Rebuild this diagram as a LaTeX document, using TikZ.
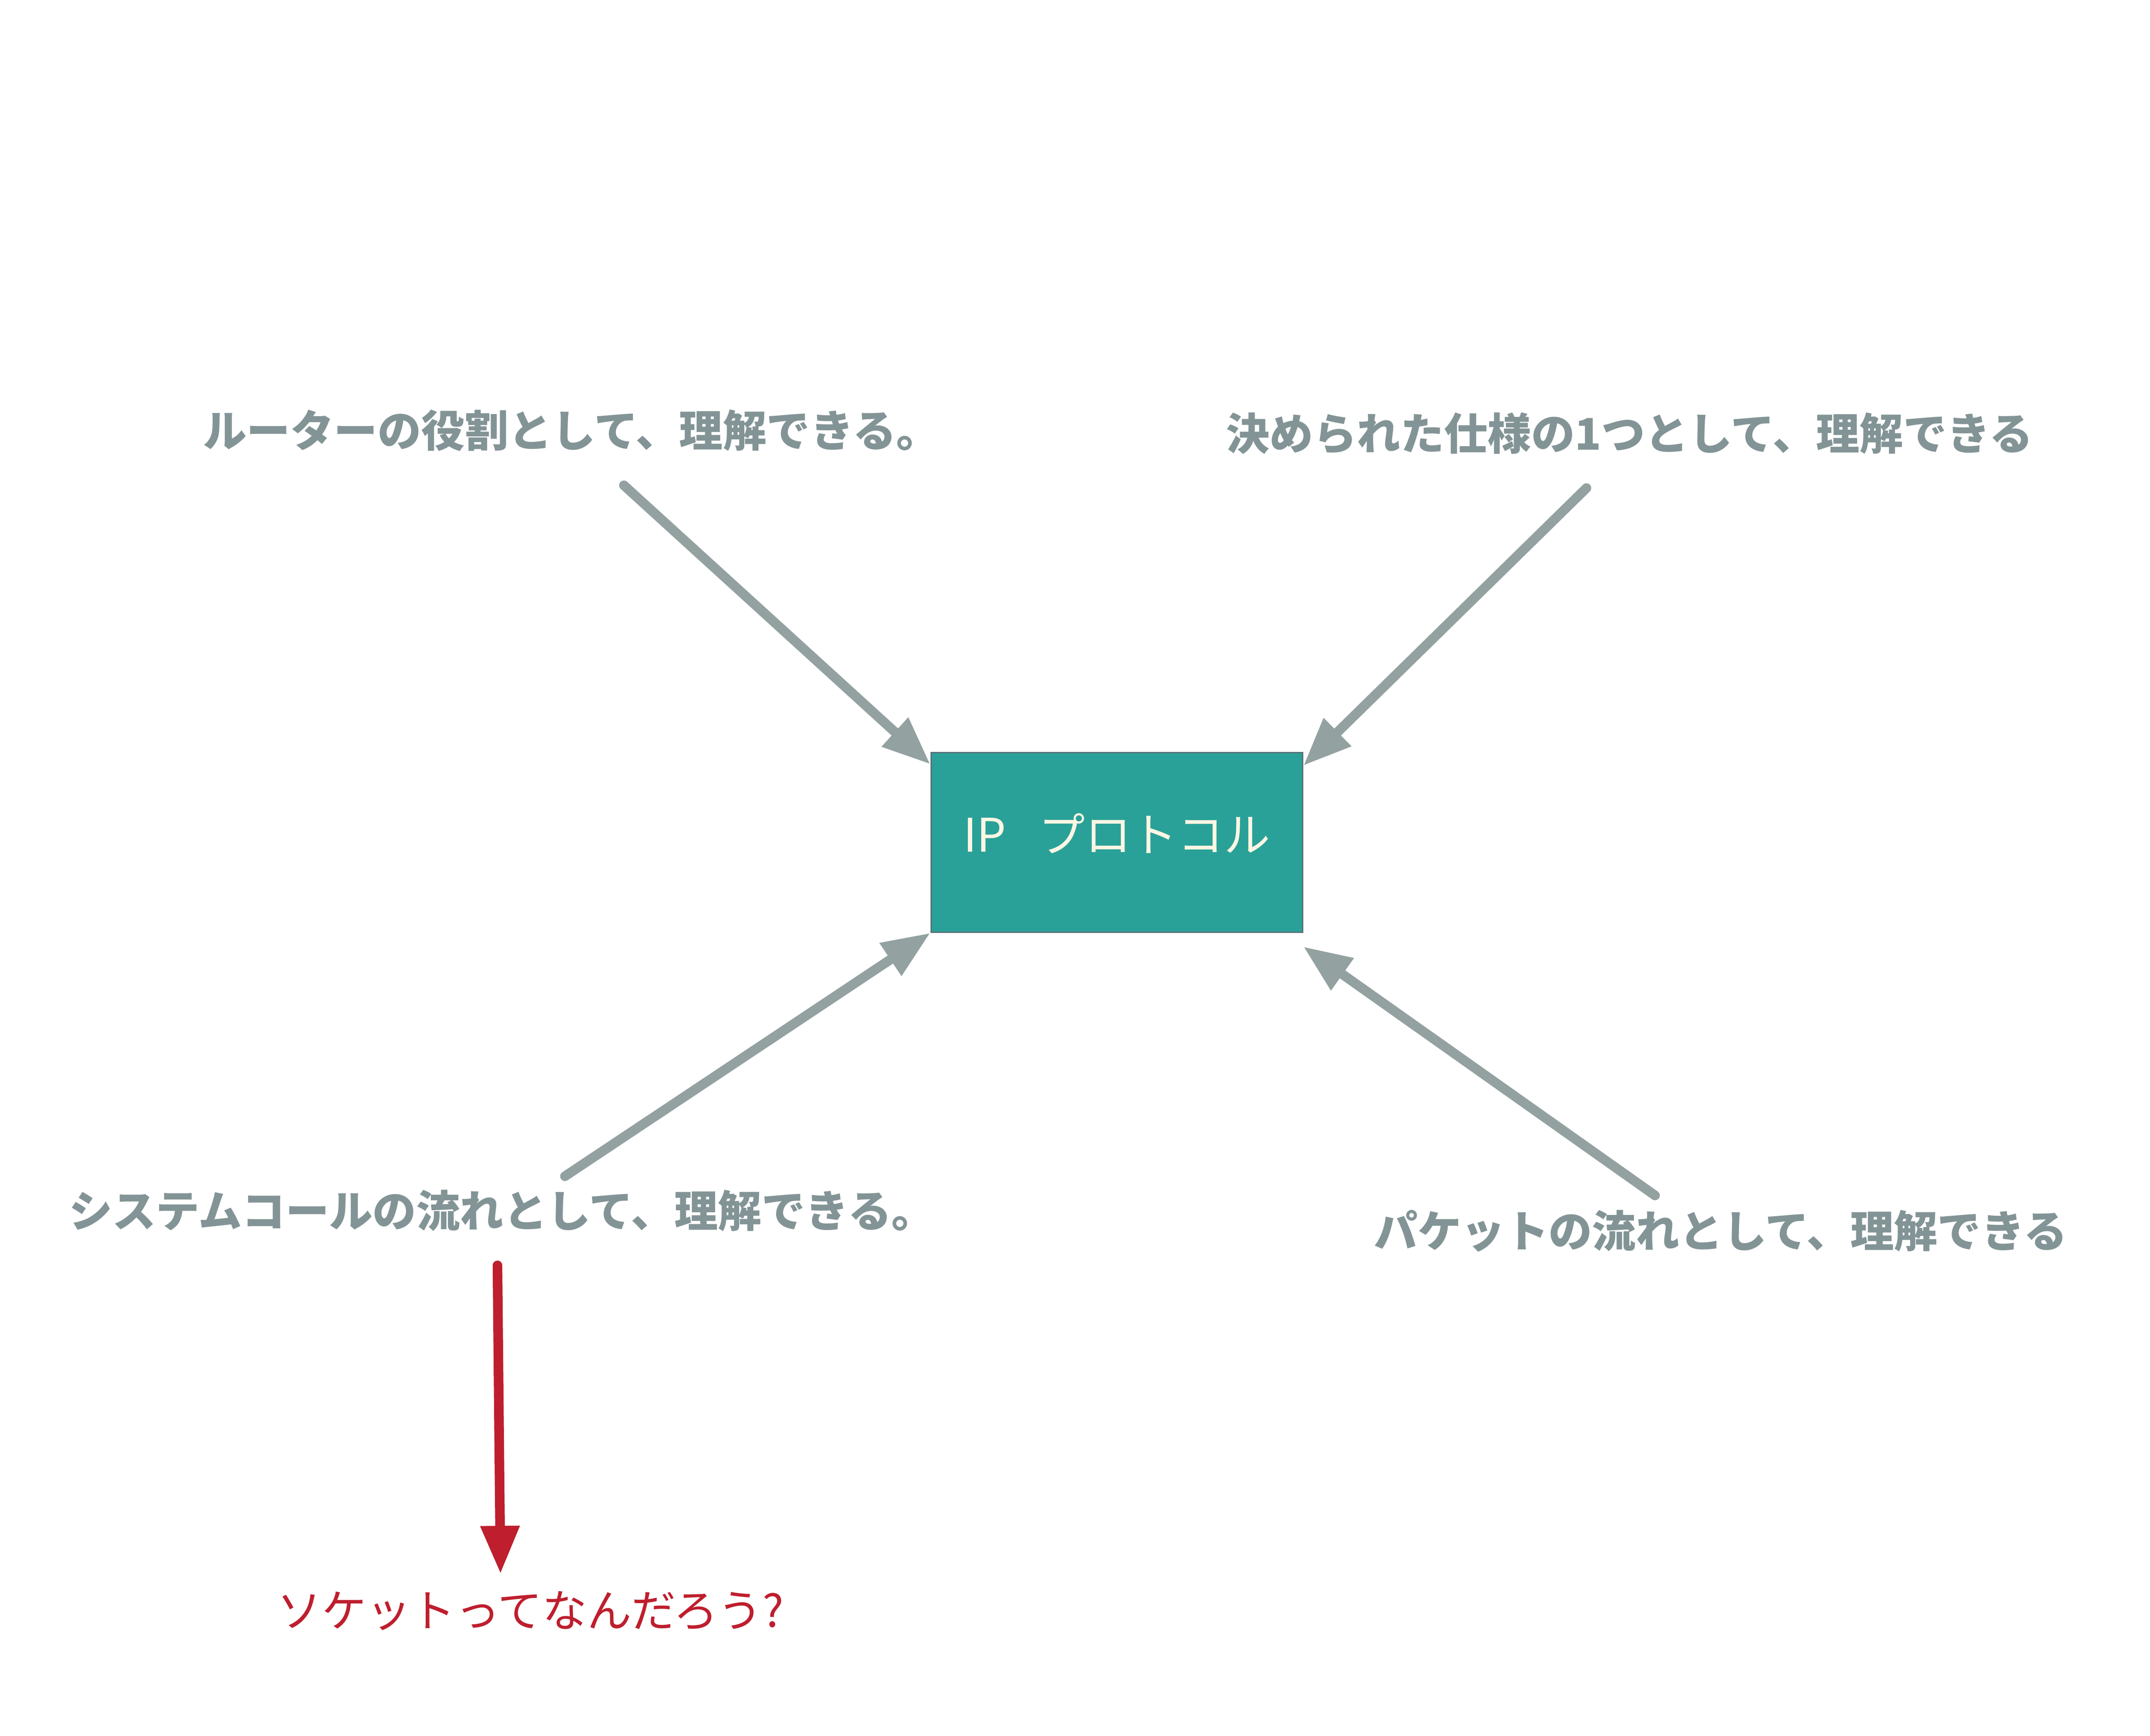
\documentclass[tikz,border=0pt]{standalone}
\usepackage{fontspec}
\newfontfamily\jp{Noto Sans CJK JP}
\usetikzlibrary{arrows.meta}
\definecolor{txtgray}{HTML}{839496}
\definecolor{arrgray}{HTML}{93A1A1}
\definecolor{boxfill}{HTML}{2AA198}
\definecolor{boxline}{HTML}{586E75}
\definecolor{boxtext}{HTML}{FDF6E3}
\definecolor{qred}{HTML}{BE1E2D}
\tikzset{
  idea/.style={anchor=west, inner sep=0pt, text=txtgray, font=\jp\bfseries\fontsize{31.8}{38}\selectfont},
  question/.style={anchor=west, inner sep=0pt, text=qred, font=\jp\fontsize{32.5}{39}\selectfont},
  topic/.style={draw=boxline, line width=1pt, fill=boxfill, minimum width=271pt, minimum height=131pt, inner sep=0pt},
  topiclabel/.style={inner sep=0pt, text=boxtext, font=\jp\fontsize{33.8}{40}\selectfont},
  garrow/.style={draw=arrgray, line width=7pt, line cap=round, -{Triangle[length=35pt,width=27pt]}},
  rarrow/.style={draw=qred, line width=7pt, line cap=round, -{Triangle[length=35pt,width=27pt]}}
}
\begin{document}
\begin{tikzpicture}[x=1pt,y=-1pt]
\useasboundingbox (0,0) rectangle (1568,1266.3);
% central box
\node[topic] (box) at (814.5,614.5) {};
\node[topiclabel] (boxlbl) at ([yshift=6.5pt]box.center) {IP\hspace{0.7em}プロトコル};
% texts
\node[idea] (t1) at (148,314) {ルーターの役割として、理解できる。};
\node[idea] (t2) at (894,316) {決められた仕様の1つとして、理解できる};
\node[idea] (t3) at (50,883) {システムコールの流れとして、理解できる。};
\node[idea] (t4) at (1002,898) {パケットの流れとして、理解できる};
\node[question] (q) at (202,1175) {ソケットってなんだろう?};
% connector ends
\coordinate (s1) at (455,354);
\coordinate (s2) at (1157,356);
\coordinate (s3) at (412,858);
\coordinate (s4) at (1207,872);
\coordinate (s5) at (362.8,923);
\coordinate (e1) at ([yshift=-9pt]box.north west);
\coordinate (e2) at ([yshift=-10pt]box.north east);
\coordinate (e3) at (box.south west);
\coordinate (e4) at ([yshift=-10pt]box.south east);
\coordinate (e5) at (365,1148);
% connectors
\draw[garrow] (s1) -- (e1);
\draw[garrow] (s2) -- (e2);
\draw[garrow] (s3) -- (e3);
\draw[garrow] (s4) -- (e4);
\draw[rarrow] (s5) -- (e5);
\end{tikzpicture}
\end{document}
